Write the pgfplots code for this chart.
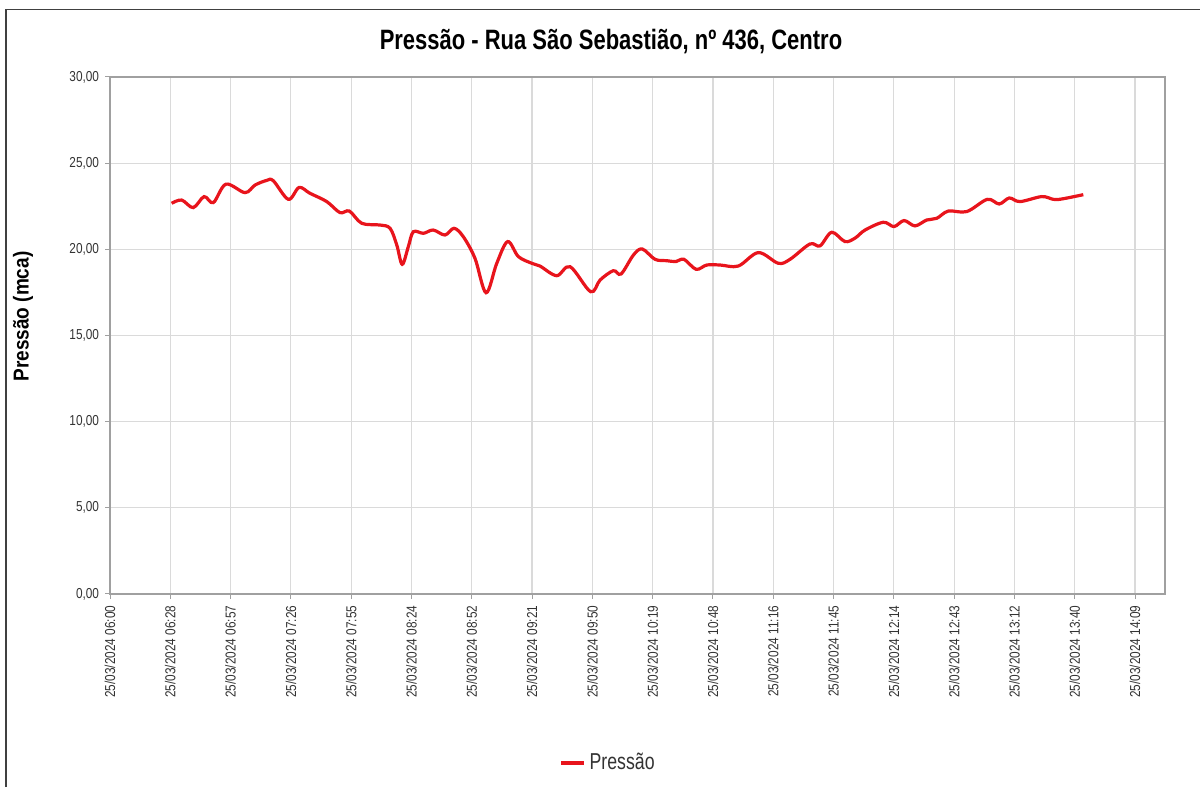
\documentclass[border=0pt]{standalone}
\usepackage{fontspec}
\setmainfont{Liberation Sans}[FakeStretch=0.82]
\newfontfamily\titlefont{Liberation Sans}[FakeStretch=0.785]
\newfontfamily\ylabfont{Liberation Sans}[FakeStretch=0.88]
\newfontfamily\legfont{Liberation Sans}[FakeStretch=0.77]
\usepackage{pgfplots}
\pgfplotsset{compat=1.18}
\definecolor{linered}{HTML}{E8141C}
\definecolor{gridgray}{HTML}{DADADA}
\definecolor{axgray}{HTML}{A0A0A0}
\definecolor{txtgray}{HTML}{333333}
\begin{document}
\begin{tikzpicture}[x=0.5bp,y=0.5bp]
\path[use as bounding box] (0,0) rectangle (1200,787);
\draw[color=black!75, line width=0.9bp] (6,0) -- (6,777.5) -- (1200,777.5);
\node[font=\titlefont\bfseries\fontsize{14bp}{16bp}\selectfont, anchor=center] at (611,745) {Pressão - Rua São Sebastião, nº 436, Centro};
\node[font=\ylabfont\bfseries\fontsize{10.8bp}{12bp}\selectfont, rotate=90, anchor=center] at (23,470.5) {Pressão (mca)};
\begin{axis}[
  at={(55bp,96.5bp)}, anchor=south west,
  scale only axis, width=527.5bp, height=258.5bp,
  xmin=0, xmax=503.3, ymin=0, ymax=30,
  xtick={0,28.7647,57.5294,86.2941,115.0588,143.8235,172.5882,201.3529,230.1176,258.8824,287.6471,316.4118,345.1765,373.9412,402.7059,431.4706,460.2353,489},
  xticklabels={25/03/2024 06:00,25/03/2024 06:28,25/03/2024 06:57,25/03/2024 07:26,25/03/2024 07:55,25/03/2024 08:24,25/03/2024 08:52,25/03/2024 09:21,25/03/2024 09:50,25/03/2024 10:19,25/03/2024 10:48,25/03/2024 11:16,25/03/2024 11:45,25/03/2024 12:14,25/03/2024 12:43,25/03/2024 13:12,25/03/2024 13:40,25/03/2024 14:09},
  ytick={0,5,10,15,20,25,30},
  yticklabel style={/pgf/number format/use comma, /pgf/number format/fixed, /pgf/number format/fixed zerofill, /pgf/number format/precision=2, /pgf/number format/assume math mode=true, inner sep=2.8bp},
  ticklabel style={font=\fontsize{7.2bp}{8bp}\selectfont, text=txtgray},
  xticklabel style={rotate=90, anchor=east, inner sep=3.2bp},
  tick align=outside, major tick length=2.5bp,
  tick style={color=axgray, line width=0.5bp},
  xtick pos=bottom, ytick pos=left,
  grid=major, major grid style={color=gridgray, line width=0.6bp},
  axis line style={color=axgray, line width=0.8bp},
  legend style={at={(0.473,-0.327)}, anchor=center, draw=none, fill=none,
    font=\legfont\fontsize{11.5bp}{13bp}\selectfont, text=txtgray, inner sep=1bp},
  legend image code/.code={\draw[#1] (0bp,0bp) -- (11.5bp,0bp);},
  legend cell align=left,
]
\addplot[color=linered, line width=1.6bp, smooth, tension=0.55] coordinates {
(29.4,22.67) (34.2,22.86) (39.7,22.42) (44.9,23.06) (49.3,22.71) (55.3,23.78)
(64.4,23.29) (69.2,23.73) (74.8,24.00) (77.9,23.98) (85.1,22.90) (90.2,23.59)
(95.4,23.25) (103.4,22.77) (109.7,22.13) (114.2,22.22) (120.1,21.51) (128.8,21.41)
(133.6,21.22) (136.8,20.25) (139.4,19.13) (142.3,20.15) (144.7,21.02) (149.5,20.93)
(154.2,21.12) (159.8,20.83) (164.1,21.22) (168.5,20.74) (174.1,19.48) (179.4,17.48)
(184.5,19.19) (189.7,20.45) (194.8,19.58) (201.2,19.19) (205.1,19.03) (213.1,18.47)
(219.5,18.99) (229.3,17.54) (233.8,18.22) (240.1,18.76) (243.8,18.57) (249.7,19.67)
(253.9,20.02) (260.0,19.42) (265.6,19.34) (270.0,19.29) (273.8,19.42) (279.6,18.84)
(284.7,19.09) (291.0,19.09) (299.7,19.03) (309.3,19.81) (318.8,19.19) (324.4,19.42)
(333.9,20.31) (338.7,20.20) (344.3,20.99) (350.6,20.45) (355.4,20.65) (360.2,21.12)
(368.9,21.57) (374.0,21.32) (378.8,21.67) (384.0,21.36) (389.6,21.70) (394.4,21.80)
(399.9,22.22) (408.7,22.19) (418.5,22.90) (424.2,22.63) (429.0,22.98) (434.1,22.77)
(444.5,23.06) (450.0,22.90) (454.0,22.92) (464.3,23.17)
};
\addlegendentry{Pressão}
\end{axis}
\end{tikzpicture}
\end{document}
